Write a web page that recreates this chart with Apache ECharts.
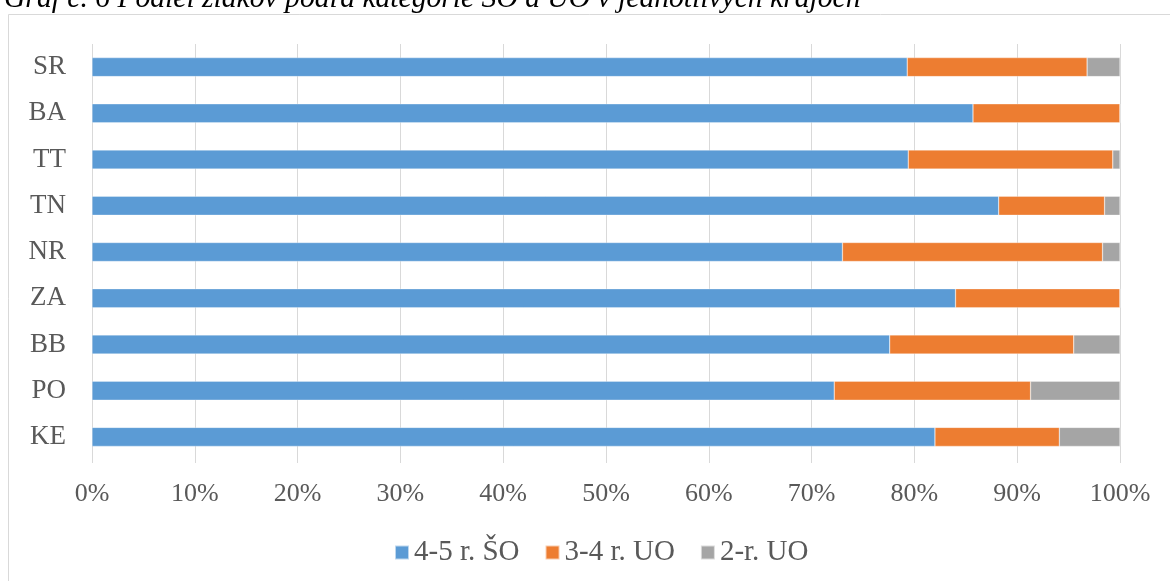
<!DOCTYPE html>
<html><head><meta charset="utf-8">
<script src="https://cdn.jsdelivr.net/npm/echarts@6/dist/echarts.min.js"></script>
<style>html,body{margin:0;padding:0;background:#fff}#c{width:1170px;height:581px}</style>
</head><body><div id="c"></div>
<script>
const categories = ['SR','BA','TT','TN','NR','ZA','BB','PO','KE'];
const seriesNames = ['4-5 r. ŠO','3-4 r. UO','2-r. UO'];
const so45 = [79.3, 85.7, 79.4, 88.2, 73.0, 84.0, 77.6, 72.2, 82.0];
const uo34 = [17.5, 14.3, 19.9, 10.3, 25.3, 16.0, 17.9, 19.1, 12.1];
const uo2  = [3.2, 0.0, 0.7, 1.5, 1.7, 0.0, 4.5, 8.7, 5.9];
const titleText = 'Graf č. 6 Podiel žiakov podľa kategórie ŠO a UO v jednotlivých krajoch';

const font = '"Liberation Serif","Times New Roman",serif';
const chart = echarts.init(document.getElementById('c'));
const mk = (name, data, color) => ({
  name, type:'bar', stack:'total', data, barWidth:19,
  itemStyle:{color, borderColor:'rgba(255,255,255,0.6)', borderWidth:0.5},
  emphasis:{disabled:true}
});
chart.setOption({
  animation:false,
  backgroundColor:'#fff',
  graphic:[
    {type:'rect', shape:{x:8.5, y:14.5, width:1200, height:700}, style:{fill:'none', stroke:'#d9d9d9', lineWidth:1}, z:-1},
    {type:'text', x:4, y:14, style:{text:titleText, font:'italic 29.6px '+font, fill:'#000', verticalAlign:'bottom'}}
  ],
  grid:{left:92, right:50, top:44, bottom:121, containLabel:false},
  xAxis:{type:'value', min:0, max:100, interval:10,
    axisLine:{show:false},
    axisTick:{show:true, length:3, lineStyle:{color:'#d9d9d9'}},
    splitLine:{show:true, lineStyle:{color:'#d9d9d9', width:1}},
    axisLabel:{formatter:'{value}%', color:'#595959', fontFamily:font, fontSize:26, margin:21}
  },
  yAxis:{type:'category', data:categories, inverse:true,
    axisLine:{show:false}, axisTick:{show:false},
    axisLabel:{color:'#595959', fontFamily:font, fontSize:27, margin:26}
  },
  legend:{data:seriesNames, top:533, left:389, itemWidth:14, itemHeight:14, itemGap:25,
    icon:'rect', textStyle:{color:'#595959', fontFamily:font, fontSize:29}},
  series:[mk(seriesNames[0], so45, '#5B9BD5'), mk(seriesNames[1], uo34, '#ED7D31'), mk(seriesNames[2], uo2, '#A5A5A5')]
});
</script></body></html>
